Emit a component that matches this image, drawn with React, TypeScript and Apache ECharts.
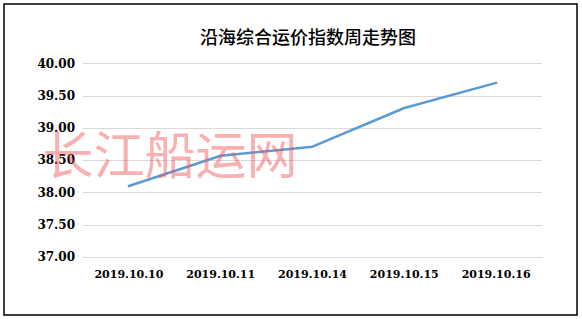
import React, { useEffect, useRef } from "react";
import * as echarts from "echarts";

const titleText = "沿海综合运价指数周走势图";
const watermarkText = "长江船运网";
const categories = ["2019.10.10", "2019.10.11", "2019.10.14", "2019.10.15", "2019.10.16"];
const indexValues = [38.1, 38.57, 38.71, 39.31, 39.7];
const yMin = 37;
const yMax = 40;
const yStep = 0.5;

export default function App() {
  const ref = useRef<HTMLDivElement>(null);
  useEffect(() => {
    if (!ref.current) return;
    const chart = echarts.init(ref.current, null, { renderer: "svg" });
    const serif = "'DejaVu Serif', 'Liberation Serif', serif";
    chart.setOption({
      animation: false,
      backgroundColor: "#ffffff",
      grid: { left: 83, right: 40, top: 63.5, bottom: 62, containLabel: false },
      xAxis: {
        type: "category",
        data: categories,
        boundaryGap: true,
        axisLine: { show: true, lineStyle: { color: "#d9d9d9", width: 1 } },
        axisTick: { show: false },
        axisLabel: {
          interval: 0,
          hideOverlap: false,
          color: "#000",
          fontFamily: serif,
          fontWeight: "bold",
          fontSize: 11,
          margin: 12,
        },
      },
      yAxis: {
        type: "value",
        min: yMin,
        max: yMax,
        interval: yStep,
        axisLine: { show: false },
        axisTick: { show: false },
        splitLine: { lineStyle: { color: "#d9d9d9", width: 1 } },
        axisLabel: {
          color: "#000",
          fontFamily: serif,
          fontWeight: "bold",
          fontSize: 12,
          margin: 8,
          formatter: (v: number) => v.toFixed(2),
        },
      },
      series: [
        {
          type: "line",
          data: indexValues,
          showSymbol: false,
          symbol: "none",
          lineStyle: { color: "#5b9bd5", width: 2.5, cap: "round", join: "round" },
          z: 2,
        },
      ],
      graphic: [
        {
          type: "rect",
          shape: { x: 4, y: 4, width: 573, height: 311 },
          style: { fill: "none", stroke: "#000", lineWidth: 1.5 },
          z: 0,
          silent: true,
        },
        {
          type: "text",
          x: 308,
          y: 36,
          style: {
            text: titleText,
            fill: "#000",
            fontSize: 18,
            fontFamily: "'Noto Sans CJK SC', sans-serif",
            fontWeight: 500,
            textAlign: "center",
            textVerticalAlign: "middle",
          },
          z: 10,
        },
        {
          type: "text",
          x: 170,
          y: 152,
          style: {
            text: watermarkText,
            fill: "rgba(240, 80, 80, 0.45)",
            fontSize: 51,
            fontFamily: "'Noto Sans CJK SC', sans-serif",
            fontWeight: "normal",
            textAlign: "center",
            textVerticalAlign: "middle",
          },
          z: 20,
          silent: true,
        },
      ],
    });
    return () => chart.dispose();
  }, []);
  return (
    <div
      ref={ref}
      style={{ position: "absolute", left: 0, top: 0, width: 582, height: 319 }}
    />
  );
}
